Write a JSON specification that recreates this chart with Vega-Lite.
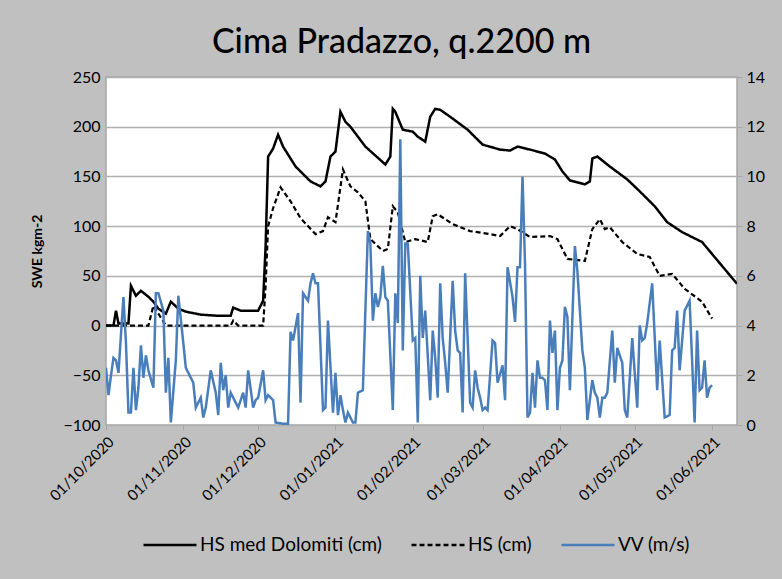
{
  "$schema": "https://vega.github.io/schema/vega-lite/v6.json",
  "width": 631,
  "height": 348,
  "autosize": {"type": "none"},
  "padding": {"left": 106, "top": 77, "right": 45, "bottom": 154},
  "background": "#c0c0c0",
  "config": {
    "font": "Lato",
    "view": {"fill": "white", "stroke": "#a6a6a6", "strokeWidth": 1.5}
  },
  "title": {
    "text": "Cima Pradazzo, q.2200 m",
    "fontSize": 34,
    "fontWeight": 500,
    "color": "black",
    "anchor": "middle",
    "frame": "group",
    "dx": -20,
    "offset": 9
  },
  "datasets": {
    "med": [
      {"t": "2020-10-01", "v": 0}, {"t": "2020-10-04", "v": 0}, {"t": "2020-10-05", "v": 15}, {"t": "2020-10-06", "v": 2},
      {"t": "2020-10-10", "v": 2}, {"t": "2020-10-11", "v": 40}, {"t": "2020-10-13", "v": 30}, {"t": "2020-10-15", "v": 35},
      {"t": "2020-10-18", "v": 29}, {"t": "2020-10-20", "v": 24}, {"t": "2020-10-22", "v": 17}, {"t": "2020-10-25", "v": 12},
      {"t": "2020-10-27", "v": 24}, {"t": "2020-10-30", "v": 17}, {"t": "2020-11-02", "v": 14}, {"t": "2020-11-08", "v": 11},
      {"t": "2020-11-14", "v": 10}, {"t": "2020-11-20", "v": 10}, {"t": "2020-11-21", "v": 18}, {"t": "2020-11-24", "v": 15},
      {"t": "2020-12-01", "v": 15}, {"t": "2020-12-03", "v": 25}, {"t": "2020-12-04", "v": 80}, {"t": "2020-12-05", "v": 170},
      {"t": "2020-12-07", "v": 178}, {"t": "2020-12-09", "v": 192}, {"t": "2020-12-11", "v": 180}, {"t": "2020-12-16", "v": 160},
      {"t": "2020-12-22", "v": 145}, {"t": "2020-12-26", "v": 140}, {"t": "2020-12-28", "v": 145}, {"t": "2020-12-30", "v": 170},
      {"t": "2021-01-01", "v": 175}, {"t": "2021-01-03", "v": 215}, {"t": "2021-01-05", "v": 205}, {"t": "2021-01-07", "v": 200},
      {"t": "2021-01-13", "v": 180}, {"t": "2021-01-21", "v": 162}, {"t": "2021-01-23", "v": 170}, {"t": "2021-01-24", "v": 218},
      {"t": "2021-01-25", "v": 215}, {"t": "2021-01-28", "v": 197}, {"t": "2021-02-01", "v": 195}, {"t": "2021-02-03", "v": 190},
      {"t": "2021-02-06", "v": 185}, {"t": "2021-02-08", "v": 210}, {"t": "2021-02-10", "v": 218}, {"t": "2021-02-12", "v": 217},
      {"t": "2021-02-16", "v": 210}, {"t": "2021-02-23", "v": 197}, {"t": "2021-03-01", "v": 182}, {"t": "2021-03-08", "v": 177},
      {"t": "2021-03-12", "v": 176}, {"t": "2021-03-15", "v": 180}, {"t": "2021-03-20", "v": 177}, {"t": "2021-03-26", "v": 173},
      {"t": "2021-03-30", "v": 167}, {"t": "2021-04-02", "v": 155}, {"t": "2021-04-05", "v": 146}, {"t": "2021-04-11", "v": 142},
      {"t": "2021-04-13", "v": 145}, {"t": "2021-04-14", "v": 168}, {"t": "2021-04-16", "v": 170}, {"t": "2021-04-21", "v": 160},
      {"t": "2021-04-28", "v": 147}, {"t": "2021-05-03", "v": 135}, {"t": "2021-05-09", "v": 120}, {"t": "2021-05-14", "v": 104},
      {"t": "2021-05-20", "v": 94}, {"t": "2021-05-28", "v": 84}, {"t": "2021-06-05", "v": 60}, {"t": "2021-06-11", "v": 42}
    ],
    "hs": [
      {"t": "2020-10-01", "v": 0}, {"t": "2020-10-18", "v": 0}, {"t": "2020-10-20", "v": 20}, {"t": "2020-10-22", "v": 12},
      {"t": "2020-10-25", "v": 0}, {"t": "2020-11-20", "v": 0}, {"t": "2020-11-21", "v": 5}, {"t": "2020-11-23", "v": 0},
      {"t": "2020-12-03", "v": 0}, {"t": "2020-12-04", "v": 40}, {"t": "2020-12-05", "v": 100}, {"t": "2020-12-07", "v": 118},
      {"t": "2020-12-10", "v": 139}, {"t": "2020-12-14", "v": 125}, {"t": "2020-12-18", "v": 108}, {"t": "2020-12-24", "v": 92},
      {"t": "2020-12-27", "v": 95}, {"t": "2020-12-29", "v": 109}, {"t": "2021-01-01", "v": 104}, {"t": "2021-01-04", "v": 157},
      {"t": "2021-01-07", "v": 140}, {"t": "2021-01-10", "v": 134}, {"t": "2021-01-13", "v": 125}, {"t": "2021-01-15", "v": 87},
      {"t": "2021-01-20", "v": 75}, {"t": "2021-01-22", "v": 77}, {"t": "2021-01-24", "v": 120}, {"t": "2021-01-26", "v": 114},
      {"t": "2021-01-29", "v": 84}, {"t": "2021-02-02", "v": 87}, {"t": "2021-02-07", "v": 84}, {"t": "2021-02-09", "v": 110},
      {"t": "2021-02-11", "v": 112}, {"t": "2021-02-17", "v": 102}, {"t": "2021-02-24", "v": 95}, {"t": "2021-03-04", "v": 92},
      {"t": "2021-03-08", "v": 90}, {"t": "2021-03-12", "v": 100}, {"t": "2021-03-15", "v": 97}, {"t": "2021-03-20", "v": 89},
      {"t": "2021-03-28", "v": 90}, {"t": "2021-03-31", "v": 87}, {"t": "2021-04-04", "v": 67}, {"t": "2021-04-11", "v": 65},
      {"t": "2021-04-14", "v": 97}, {"t": "2021-04-17", "v": 107}, {"t": "2021-04-19", "v": 97}, {"t": "2021-04-21", "v": 99},
      {"t": "2021-04-26", "v": 84}, {"t": "2021-05-02", "v": 72}, {"t": "2021-05-07", "v": 69}, {"t": "2021-05-11", "v": 50},
      {"t": "2021-05-16", "v": 52}, {"t": "2021-05-21", "v": 37}, {"t": "2021-05-28", "v": 24}, {"t": "2021-06-01", "v": 7}
    ],
    "vv": [
      {"t": "2020-10-01", "v": 2.3}, {"t": "2020-10-02", "v": 1.2}, {"t": "2020-10-03", "v": 2.0}, {"t": "2020-10-04", "v": 2.7},
      {"t": "2020-10-05", "v": 2.6}, {"t": "2020-10-06", "v": 2.1}, {"t": "2020-10-08", "v": 5.15}, {"t": "2020-10-09", "v": 3.3},
      {"t": "2020-10-10", "v": 0.5}, {"t": "2020-10-11", "v": 0.5}, {"t": "2020-10-12", "v": 2.3}, {"t": "2020-10-13", "v": 0.6},
      {"t": "2020-10-14", "v": 1.5}, {"t": "2020-10-15", "v": 3.2}, {"t": "2020-10-16", "v": 1.9}, {"t": "2020-10-17", "v": 2.8},
      {"t": "2020-10-18", "v": 2.2}, {"t": "2020-10-20", "v": 1.5}, {"t": "2020-10-21", "v": 5.3}, {"t": "2020-10-22", "v": 5.3},
      {"t": "2020-10-24", "v": 4.6}, {"t": "2020-10-25", "v": 1.3}, {"t": "2020-10-26", "v": 2.7}, {"t": "2020-10-27", "v": 0.1},
      {"t": "2020-10-29", "v": 2.6}, {"t": "2020-10-30", "v": 5.2}, {"t": "2020-11-01", "v": 3.3}, {"t": "2020-11-02", "v": 2.3},
      {"t": "2020-11-03", "v": 2.1}, {"t": "2020-11-05", "v": 1.7}, {"t": "2020-11-06", "v": 0.7}, {"t": "2020-11-08", "v": 1.1},
      {"t": "2020-11-09", "v": 0.3}, {"t": "2020-11-10", "v": 0.7}, {"t": "2020-11-12", "v": 2.2}, {"t": "2020-11-14", "v": 1.3},
      {"t": "2020-11-15", "v": 0.4}, {"t": "2020-11-16", "v": 2.5}, {"t": "2020-11-17", "v": 1.4}, {"t": "2020-11-18", "v": 2.0},
      {"t": "2020-11-19", "v": 0.7}, {"t": "2020-11-20", "v": 1.3}, {"t": "2020-11-22", "v": 0.9}, {"t": "2020-11-23", "v": 0.7},
      {"t": "2020-11-25", "v": 1.3}, {"t": "2020-11-26", "v": 0.7}, {"t": "2020-11-27", "v": 2.2}, {"t": "2020-11-29", "v": 0.7},
      {"t": "2020-11-30", "v": 1.0}, {"t": "2020-12-01", "v": 1.1}, {"t": "2020-12-03", "v": 2.2}, {"t": "2020-12-04", "v": 1.0},
      {"t": "2020-12-05", "v": 1.2}, {"t": "2020-12-07", "v": 1.0}, {"t": "2020-12-08", "v": 0.1}, {"t": "2020-12-11", "v": 0.05},
      {"t": "2020-12-13", "v": 0.05}, {"t": "2020-12-14", "v": 3.75}, {"t": "2020-12-15", "v": 3.4}, {"t": "2020-12-17", "v": 4.5},
      {"t": "2020-12-18", "v": 0.9}, {"t": "2020-12-19", "v": 5.3}, {"t": "2020-12-21", "v": 5.0}, {"t": "2020-12-22", "v": 5.7},
      {"t": "2020-12-23", "v": 6.1}, {"t": "2020-12-24", "v": 5.7}, {"t": "2020-12-25", "v": 5.7}, {"t": "2020-12-27", "v": 0.6},
      {"t": "2020-12-28", "v": 0.7}, {"t": "2020-12-29", "v": 4.2}, {"t": "2020-12-31", "v": 0.5}, {"t": "2021-01-01", "v": 2.1},
      {"t": "2021-01-02", "v": 0.4}, {"t": "2021-01-03", "v": 1.2}, {"t": "2021-01-04", "v": 0.6}, {"t": "2021-01-05", "v": 0.1},
      {"t": "2021-01-06", "v": 0.5}, {"t": "2021-01-08", "v": 0.1}, {"t": "2021-01-09", "v": 0.1}, {"t": "2021-01-10", "v": 1.3},
      {"t": "2021-01-12", "v": 1.4}, {"t": "2021-01-14", "v": 7.8}, {"t": "2021-01-15", "v": 7.3}, {"t": "2021-01-16", "v": 4.2},
      {"t": "2021-01-17", "v": 5.3}, {"t": "2021-01-18", "v": 4.75}, {"t": "2021-01-19", "v": 5.15}, {"t": "2021-01-20", "v": 6.4},
      {"t": "2021-01-21", "v": 5.15}, {"t": "2021-01-22", "v": 5.0}, {"t": "2021-01-24", "v": 0.6}, {"t": "2021-01-25", "v": 5.3},
      {"t": "2021-01-26", "v": 4.1}, {"t": "2021-01-27", "v": 11.5}, {"t": "2021-01-28", "v": 3.0}, {"t": "2021-01-29", "v": 7.3},
      {"t": "2021-01-30", "v": 7.3}, {"t": "2021-02-01", "v": 3.4}, {"t": "2021-02-02", "v": 3.5}, {"t": "2021-02-03", "v": 0.1},
      {"t": "2021-02-04", "v": 6.0}, {"t": "2021-02-05", "v": 3.5}, {"t": "2021-02-06", "v": 4.6}, {"t": "2021-02-08", "v": 1.0},
      {"t": "2021-02-09", "v": 3.8}, {"t": "2021-02-10", "v": 2.7}, {"t": "2021-02-11", "v": 1.1}, {"t": "2021-02-12", "v": 5.7},
      {"t": "2021-02-13", "v": 3.5}, {"t": "2021-02-14", "v": 2.5}, {"t": "2021-02-15", "v": 1.3}, {"t": "2021-02-17", "v": 5.8},
      {"t": "2021-02-18", "v": 3.8}, {"t": "2021-02-19", "v": 3.0}, {"t": "2021-02-20", "v": 2.9}, {"t": "2021-02-21", "v": 0.5},
      {"t": "2021-02-22", "v": 6.1}, {"t": "2021-02-24", "v": 0.9}, {"t": "2021-02-25", "v": 0.7}, {"t": "2021-02-26", "v": 2.2},
      {"t": "2021-02-27", "v": 1.5}, {"t": "2021-02-28", "v": 1.1}, {"t": "2021-03-01", "v": 0.6}, {"t": "2021-03-02", "v": 0.7},
      {"t": "2021-03-03", "v": 0.6}, {"t": "2021-03-05", "v": 3.4}, {"t": "2021-03-06", "v": 3.3}, {"t": "2021-03-07", "v": 1.7},
      {"t": "2021-03-09", "v": 2.4}, {"t": "2021-03-10", "v": 1.0}, {"t": "2021-03-11", "v": 6.35}, {"t": "2021-03-13", "v": 5.15},
      {"t": "2021-03-14", "v": 4.15}, {"t": "2021-03-15", "v": 6.35}, {"t": "2021-03-16", "v": 6.35}, {"t": "2021-03-17", "v": 10.0},
      {"t": "2021-03-18", "v": 6.5}, {"t": "2021-03-19", "v": 0.3}, {"t": "2021-03-20", "v": 0.5}, {"t": "2021-03-21", "v": 2.1},
      {"t": "2021-03-22", "v": 0.7}, {"t": "2021-03-23", "v": 2.6}, {"t": "2021-03-24", "v": 1.9}, {"t": "2021-03-25", "v": 1.9},
      {"t": "2021-03-26", "v": 1.8}, {"t": "2021-03-27", "v": 0.6}, {"t": "2021-03-28", "v": 4.2}, {"t": "2021-03-29", "v": 2.9},
      {"t": "2021-03-30", "v": 3.8}, {"t": "2021-03-31", "v": 0.6}, {"t": "2021-04-01", "v": 2.3}, {"t": "2021-04-02", "v": 2.6},
      {"t": "2021-04-03", "v": 4.75}, {"t": "2021-04-04", "v": 4.35}, {"t": "2021-04-05", "v": 1.4}, {"t": "2021-04-07", "v": 7.2},
      {"t": "2021-04-08", "v": 6.2}, {"t": "2021-04-10", "v": 3.0}, {"t": "2021-04-11", "v": 2.3}, {"t": "2021-04-12", "v": 0.2},
      {"t": "2021-04-14", "v": 1.8}, {"t": "2021-04-15", "v": 1.3}, {"t": "2021-04-16", "v": 1.1}, {"t": "2021-04-17", "v": 0.3},
      {"t": "2021-04-18", "v": 1.1}, {"t": "2021-04-19", "v": 1.1}, {"t": "2021-04-20", "v": 1.3}, {"t": "2021-04-22", "v": 3.8},
      {"t": "2021-04-23", "v": 1.7}, {"t": "2021-04-24", "v": 3.1}, {"t": "2021-04-26", "v": 2.5}, {"t": "2021-04-27", "v": 0.6},
      {"t": "2021-04-28", "v": 0.3}, {"t": "2021-04-30", "v": 3.5}, {"t": "2021-05-02", "v": 0.7}, {"t": "2021-05-03", "v": 4.0},
      {"t": "2021-05-04", "v": 3.4}, {"t": "2021-05-05", "v": 3.5}, {"t": "2021-05-06", "v": 4.1}, {"t": "2021-05-08", "v": 5.7},
      {"t": "2021-05-10", "v": 1.4}, {"t": "2021-05-11", "v": 3.4}, {"t": "2021-05-13", "v": 0.3}, {"t": "2021-05-15", "v": 0.4},
      {"t": "2021-05-16", "v": 3.0}, {"t": "2021-05-17", "v": 3.1}, {"t": "2021-05-18", "v": 4.6}, {"t": "2021-05-19", "v": 2.2},
      {"t": "2021-05-20", "v": 3.4}, {"t": "2021-05-21", "v": 4.6}, {"t": "2021-05-23", "v": 5.0}, {"t": "2021-05-24", "v": 2.6},
      {"t": "2021-05-25", "v": 0.1}, {"t": "2021-05-26", "v": 3.8}, {"t": "2021-05-27", "v": 1.4}, {"t": "2021-05-28", "v": 1.5},
      {"t": "2021-05-29", "v": 2.6}, {"t": "2021-05-30", "v": 1.1}, {"t": "2021-05-31", "v": 1.5}, {"t": "2021-06-01", "v": 1.6}
    ]
  },
  "encoding": {
    "x": {
      "field": "t",
      "type": "temporal",
      "scale": {
        "type": "utc",
        "domain": [
          {"year": 2020, "month": 10, "date": 1, "utc": true},
          {"year": 2021, "month": 6, "date": 11, "utc": true}
        ]
      },
      "axis": {
        "title": null,
        "labelExpr": "utcFormat(datum.value, '%d/%m/%Y')",
        "values": [
          {"year": 2020, "month": 10, "date": 1, "utc": true},
          {"year": 2020, "month": 11, "date": 1, "utc": true},
          {"year": 2020, "month": 12, "date": 1, "utc": true},
          {"year": 2021, "month": 1, "date": 1, "utc": true},
          {"year": 2021, "month": 2, "date": 1, "utc": true},
          {"year": 2021, "month": 3, "date": 1, "utc": true},
          {"year": 2021, "month": 4, "date": 1, "utc": true},
          {"year": 2021, "month": 5, "date": 1, "utc": true},
          {"year": 2021, "month": 6, "date": 1, "utc": true}
        ],
        "labelAngle": -45,
        "labelFontSize": 15,
        "labelColor": "black",
        "labelPadding": 4,
        "grid": false,
        "domain": false,
        "ticks": true,
        "tickSize": 5,
        "tickColor": "#a6a6a6",
        "labelOverlap": false
      }
    }
  },
  "layer": [
    {
      "encoding": {
        "y": {
          "field": "v",
          "type": "quantitative",
          "scale": {"domain": [-100, 250], "nice": false, "zero": false},
          "axis": {
            "orient": "left",
            "title": "SWE kgm-2",
            "titleFontSize": 14,
            "titleFontWeight": "bold",
            "titleColor": "black",
            "titlePadding": 18,
            "values": [-100, -50, 0, 50, 100, 150, 200, 250],
            "labelFontSize": 16,
            "labelColor": "black",
            "labelPadding": 6,
            "domain": false,
            "ticks": false,
            "grid": true,
            "gridColor": "#b0b0b0",
            "gridWidth": 1.5
          }
        },
        "color": {
          "scale": {
            "domain": ["HS med Dolomiti (cm)", "HS (cm)", "VV (m/s)"],
            "range": ["#000000", "#000000", "#4a7ebb"]
          },
          "legend": {
            "orient": "none",
            "legendX": 36,
            "legendY": 440,
            "direction": "horizontal",
            "title": null,
            "symbolType": "stroke",
            "symbolSize": 2809,
            "symbolStrokeWidth": 2.5,
            "labelFontSize": 19,
            "labelLimit": 400,
            "labelColor": "black",
            "labelOffset": 2,
            "columnPadding": 24
          }
        },
        "strokeDash": {
          "scale": {
            "domain": ["HS med Dolomiti (cm)", "HS (cm)", "VV (m/s)"],
            "range": [[1, 0], [5, 3], [1, 0]]
          }
        }
      },
      "layer": [
        {
          "data": {"name": "med"},
          "mark": {"type": "line", "strokeWidth": 2.5, "clip": true},
          "encoding": {
            "color": {"datum": "HS med Dolomiti (cm)"},
            "strokeDash": {"datum": "HS med Dolomiti (cm)"}
          }
        },
        {
          "data": {"name": "hs"},
          "mark": {"type": "line", "strokeWidth": 2.2, "clip": true},
          "encoding": {
            "color": {"datum": "HS (cm)"},
            "strokeDash": {"datum": "HS (cm)"}
          }
        }
      ]
    },
    {
      "data": {"name": "vv"},
      "mark": {"type": "line", "strokeWidth": 2.5, "clip": true},
      "encoding": {
        "y": {
          "field": "v",
          "type": "quantitative",
          "scale": {"domain": [0, 14], "nice": false, "zero": false},
          "axis": {
            "orient": "right",
            "title": null,
            "values": [0, 2, 4, 6, 8, 10, 12, 14],
            "labelFontSize": 16,
            "labelColor": "black",
            "labelPadding": 4,
            "domain": false,
            "ticks": true,
            "tickSize": 5,
            "tickColor": "#a6a6a6",
            "grid": false
          }
        },
        "color": {"datum": "VV (m/s)"},
        "strokeDash": {"datum": "VV (m/s)"}
      }
    }
  ],
  "resolve": {"scale": {"y": "independent"}}
}
